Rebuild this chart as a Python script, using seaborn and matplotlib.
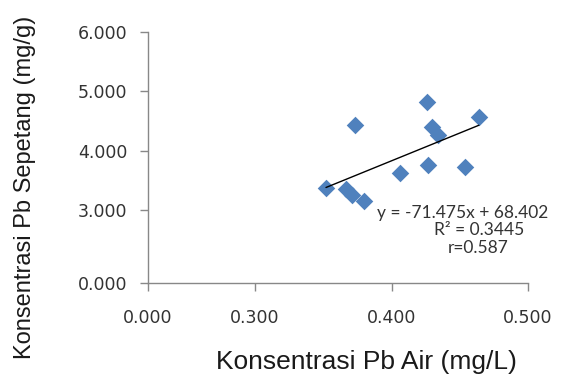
import numpy as np
import matplotlib
matplotlib.use("Agg")
import matplotlib.pyplot as plt
import seaborn as sns
import pandas as pd

# Pb concentration in water (mg/L) vs in Sepetang (mg/g)
pb_air = [0.352, 0.367, 0.371, 0.373, 0.380, 0.406, 0.4265, 0.426, 0.430, 0.434, 0.454, 0.464]
pb_sepetang = [3.37, 3.36, 3.25, 4.43, 3.15, 3.62, 3.75, 4.81, 4.40, 4.27, 3.73, 4.57]

x_ticks = [0.0, 0.3, 0.4, 0.5]
y_ticks = [0.0, 3.0, 4.0, 5.0, 6.0]

eq_lines = ["y = -71.475x + 68.402", "R\u00b2 = 0.3445", "r=0.587"]

data = pd.DataFrame({"air": pb_air, "sepetang": pb_sepetang})

# the original axes are compressed below 0.3 (x) and below 3.0 (y)
xb, xp = [0.0, 0.3, 0.5], [0.0, 107.0, 380.0]
yb, yp = [0.0, 3.0, 6.0], [0.0, 73.0, 251.3]

sns.set_style("white")
fig = plt.figure(figsize=(5.8, 3.78), dpi=100)
ax = fig.add_axes([148 / 580, 95 / 378, 380 / 580, 251.3 / 378])

ax.set_xscale("function", functions=(lambda v: np.interp(v, xb, xp),
                                     lambda v: np.interp(v, xp, xb)))
ax.set_yscale("function", functions=(lambda v: np.interp(v, yb, yp),
                                     lambda v: np.interp(v, yp, yb)))

sns.regplot(x="air", y="sepetang", data=data, ax=ax, ci=None,
            marker="D",
            scatter_kws={"s": 80, "color": "#4F81BD", "alpha": 1, "linewidths": 0},
            line_kws={"color": "black", "lw": 1.0})

ax.set_xlim(0, 0.5)
ax.set_ylim(0, 6)
ax.set_xticks(x_ticks)
ax.set_yticks(y_ticks)
ax.set_xticklabels([f"{t:.3f}" for t in x_ticks], family="DejaVu Sans")
ax.set_yticklabels([f"{t:.3f}" for t in y_ticks], family="DejaVu Sans")
ax.minorticks_off()

for side in ["top", "right"]:
    ax.spines[side].set_visible(False)
for side in ["left", "bottom"]:
    ax.spines[side].set_color("#888888")
    ax.spines[side].set_linewidth(1.0)

ax.tick_params(axis="both", direction="out", length=6, width=1.0, color="#888888",
               labelsize=12.5, labelcolor="#333333", bottom=True, left=True)
ax.tick_params(axis="y", pad=9)
ax.tick_params(axis="x", pad=13)

ax.set_xlabel("Konsentrasi Pb Air (mg/L)", fontsize=19, family="Liberation Sans",
              color="#1a1a1a", va="center")
ax.xaxis.set_label_coords(0.574, -0.314)
ax.set_ylabel("Konsentrasi Pb Sepetang (mg/g)", fontsize=17, family="Liberation Sans",
              color="#1a1a1a", va="center")
ax.yaxis.set_label_coords(-0.324, 0.38)

# trendline annotation, placed as in the original
ax.text((463 - 148) / 380, (283 - 213) / 251.3, eq_lines[0], transform=ax.transAxes,
        ha="center", va="center", fontsize=12.5, family="Lato", color="#333333")
ax.text((479 - 148) / 380, (283 - 230) / 251.3, eq_lines[1], transform=ax.transAxes,
        ha="center", va="center", fontsize=12.5, family="Lato", color="#333333")
ax.text((478 - 148) / 380, (283 - 247.7) / 251.3, eq_lines[2], transform=ax.transAxes,
        ha="center", va="center", fontsize=12.5, family="Lato", color="#333333")

fig.savefig("out.png", dpi=100)
